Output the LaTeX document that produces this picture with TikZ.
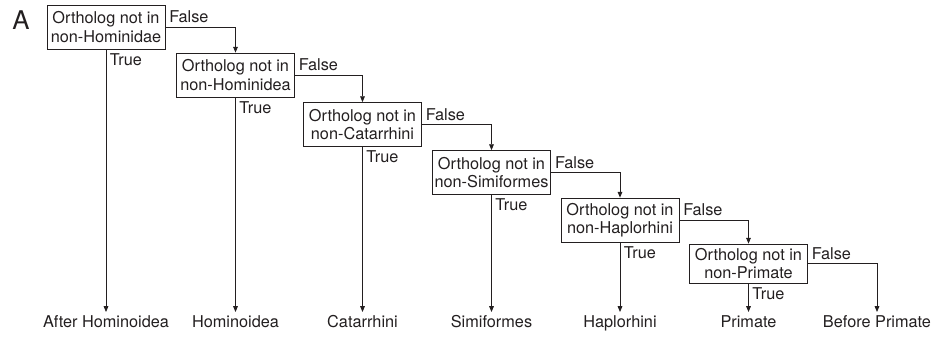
\documentclass[tikz,border=0pt]{standalone}
\usepackage{fontspec}
\setmainfont{TeX Gyre Heros}
\usetikzlibrary{arrows.meta}
\definecolor{trazo}{HTML}{231F20}
\tikzset{
  caja/.style={draw=trazo, line width=0.6pt, align=center, inner xsep=2pt, inner ysep=2pt,
    minimum width=118*0.03cm, minimum height=44*0.03cm},
  grupo/.style={anchor=north, inner sep=3pt},
  flecha/.style={draw=trazo, line width=0.7pt, -{Triangle[length=5pt,width=4pt]}},
  rama/.style={inner sep=3pt}
}
\begin{document}
\begin{tikzpicture}[x=0.03cm, y=-0.03cm, font=\fontsize{13.9}{15.5}\selectfont, text=trazo]
    \useasboundingbox (0,0) rectangle (931,342);

    % Etiqueta del panel
    \node[font=\fontsize{22}{22}\selectfont] (panel) at (21,20) {A};

    % Preguntas (cajas en escalera)
    \node[caja] (q1) at (106,27) {Ortholog not in\\non-Hominidae};
    \node[caja] (q2) at (235.5,75) {Ortholog not in\\non-Hominidea};
    \node[caja] (q3) at (362.5,124.5) {Ortholog not in\\non-Catarrhini};
    \node[caja] (q4) at (491.5,172.5) {Ortholog not in\\non-Simiformes};
    \node[caja] (q5) at (620,220) {Ortholog not in\\non-Haplorhini};
    \node[caja, minimum height=39*0.03cm] (q6) at (748.5,263.5) {Ortholog not in\\non-Primate};

    % Resultados
    \node[grupo] (r1) at (106,312) {After Hominoidea};
    \node[grupo] (r2) at (235.5,312) {Hominoidea};
    \node[grupo] (r3) at (362.5,312) {Catarrhini};
    \node[grupo] (r4) at (491.5,312) {Simiformes};
    \node[grupo] (r5) at (620,312) {Haplorhini};
    \node[grupo] (r6) at (748.5,312) {Primate};
    \node[grupo] (r7) at (877,312) {Before Primate};

    % Ramas True
    \foreach \i in {1,...,6}
        \draw[flecha] (q\i.south) -- (r\i.north)
            node[rama, pos=0, anchor=north west, inner ysep=3pt] {True};

    % Ramas False
    \foreach \a/\b in {1/2,2/3,3/4,4/5,5/6}
        \draw[flecha] (q\a.east) -| (q\b.north)
            node[rama, pos=0, anchor=south west] {False};
    \draw[flecha] (q6.east) -| (r7.north)
        node[rama, pos=0, anchor=south west] {False};
\end{tikzpicture}
\end{document}
